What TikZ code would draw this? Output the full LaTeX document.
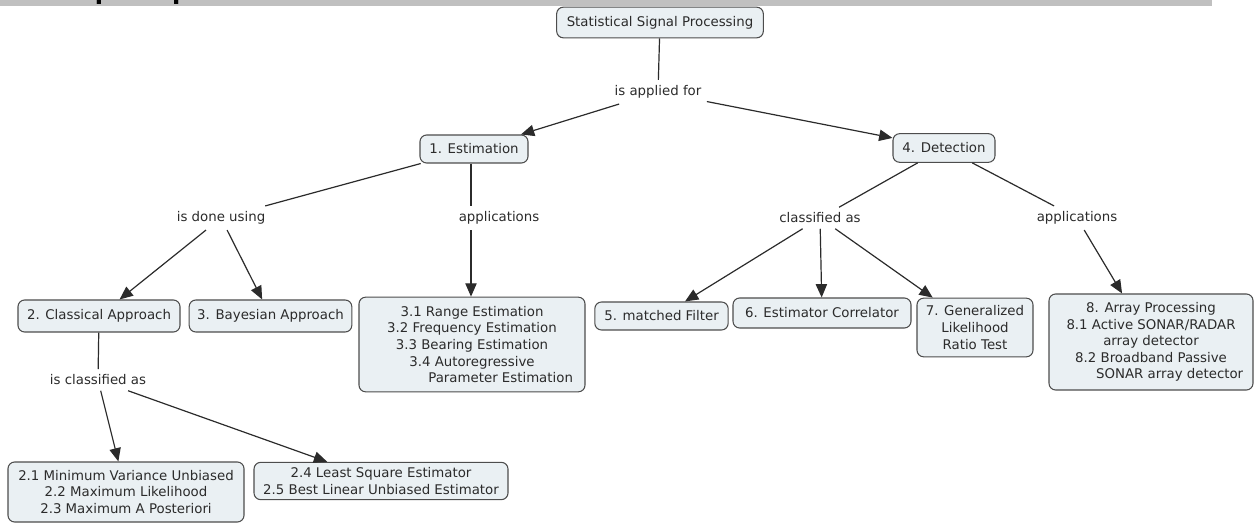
\documentclass[tikz,border=0pt]{standalone}
\usepackage{fontspec}
\setsansfont{DejaVu Sans}
\usetikzlibrary{arrows.meta}
\definecolor{ConceptFill}{HTML}{EAF0F3}
\definecolor{ConceptEdge}{HTML}{4D4D4D}
\definecolor{InkGray}{HTML}{2B2B2B}
\definecolor{BarGray}{HTML}{C0C0C0}

\begin{document}
\begin{tikzpicture}[x=0.75pt,y=-0.75pt,
  every node/.style={font=\sffamily\fontsize{10}{12.4}\selectfont, text=InkGray},
  concept/.style={draw=ConceptEdge, fill=ConceptFill, rounded corners=5pt, line width=0.8pt, align=center, inner sep=0pt},
  phrase/.style={inner sep=4pt},
  link/.style={draw=InkGray, line width=0.9pt},
  linkarrow/.style={link, -{Triangle[length=10pt,width=8.5pt]}}]
  \useasboundingbox (0,0) rectangle (1255,523);
  \fill[BarGray] (0,0) rectangle (1212,6);
  \begin{scope}
    \clip (0,0) rectangle (1255,523);
    \node[anchor=base west, inner sep=0pt, text=black, font=\sffamily\bfseries\fontsize{18}{18}\selectfont] (title) at (13,0) {Concept Map};
  \end{scope}
  % concepts
  \node[concept, minimum width=155pt, minimum height=23pt] (ssp) at (660,22.5) {Statistical Signal Processing};
  \node[concept, minimum width=81pt, minimum height=21pt] (est) at (474,149) {1. Estimation};
  \node[concept, minimum width=76.5pt, minimum height=21.5pt] (det) at (944,148) {4. Detection};
  \node[concept, minimum width=121.5pt, minimum height=24pt] (clas) at (99,316) {2. Classical Approach};
  \node[concept, minimum width=122pt, minimum height=24pt] (bayes) at (270.5,316) {3. Bayesian Approach};
  \node[concept, minimum width=169.5pt, minimum height=71pt] (estapp) at (472,344.5)
    {3.1 Range Estimation\\3.2 Frequency Estimation\\3.3 Bearing Estimation\\3.4 Autoregressive\\\hspace*{43pt}Parameter Estimation};
  \node[concept, minimum width=100pt, minimum height=21pt] (mf) at (661.5,316) {5. matched Filter};
  \node[concept, minimum width=133.5pt, minimum height=22.5pt] (ec) at (822,313) {6. Estimator Correlator};
  \node[concept, minimum width=87pt, minimum height=44pt] (glrt) at (975,327.5) {7. Generalized\\Likelihood\\Ratio Test};
  \node[concept, minimum width=153pt, minimum height=72pt] (arrproc) at (1151,342)
    {8. Array Processing\\8.1 Active SONAR/RADAR\\array detector\\8.2 Broadband Passive\\\hspace*{28pt}SONAR array detector};
  \node[concept, minimum width=177pt, minimum height=45pt] (mvu) at (126,492)
    {2.1 Minimum Variance Unbiased\\2.2 Maximum Likelihood\\2.3 Maximum A Posteriori};
  \node[concept, minimum width=190.5pt, minimum height=28pt] (lse) at (381,481)
    {2.4 Least Square Estimator\\2.5 Best Linear Unbiased Estimator};
  % linking phrases
  \node[phrase] (apl) at (658,92) {is applied for};
  \node[phrase] (dne) at (221,218) {is done using};
  \node[phrase] (app1) at (471,218) {\hspace*{42pt}applications};
  \node[phrase] (cls) at (820,218) {classified as};
  \node[phrase] (app2) at (1077,218) {applications};
  \node[phrase] (iscls) at (98,380) {is classified as};
  % connectors
  \draw[link] (ssp) -- (apl);
  \draw[linkarrow] (apl) -- (est);
  \draw[linkarrow] (apl) -- (det);
  \draw[link] (est) -- (dne);
  \draw[link] (est.south -| app1) -- (app1);
  \draw[linkarrow] (dne) -- (clas);
  \draw[linkarrow] (dne) -- (bayes);
  \draw[linkarrow] (app1) -- (app1 |- estapp.north);
  \draw[link] (det) -- (cls);
  \draw[link] (det) -- (app2);
  \draw[linkarrow] (cls) -- (mf);
  \draw[linkarrow] (cls) -- (ec);
  \draw[linkarrow] (cls) -- (glrt);
  \draw[linkarrow] (app2) -- (arrproc);
  \draw[link] (clas) -- (iscls);
  \draw[linkarrow] (iscls) -- (mvu);
  \draw[linkarrow] (iscls) -- (lse);
\end{tikzpicture}
\end{document}
